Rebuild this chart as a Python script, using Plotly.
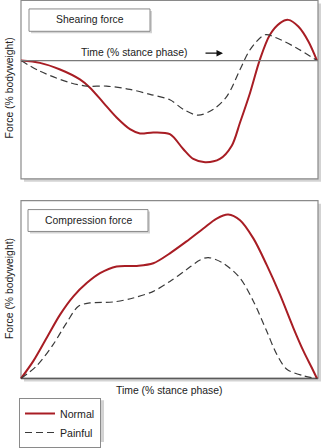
import plotly.graph_objects as go

# ---------------- data ----------------
# time, % stance phase
shear_normal_t = [0, 6.4, 13.2, 19.9, 23.3, 27.8, 32.3, 36.8, 40.2, 44.7, 50.3, 54.8, 58.2, 62.2, 67.2,
                  71.2, 74.0, 77.4, 80.7, 84.1, 87.5, 90.3, 93.7, 97.1, 100]
shear_normal_f = [0, -2.3, -9, -19, -27.3, -42.3, -57.3, -69, -73.3, -72.3, -74, -89, -99, -102.3, -99,
                  -85.7, -62.3, -32.3, 1, 26, 37.7, 41, 34.3, 19.3, 0]
shear_pain_t = [0, 6.4, 16.6, 22.2, 28.9, 36.8, 43.6, 50.3, 54.8, 59.9, 65.0, 69.6, 74.0, 77.4, 82.4,
                86.4, 93.1, 100]
shear_pain_f = [0, -10.7, -22.3, -25.7, -25.7, -29, -34, -39.5, -49, -55, -49, -35.7, -9, 11, 26,
                22.7, 12.7, 0]

comp_normal_t = [0, 4.2, 8.7, 13.2, 17.7, 22.2, 26.7, 32.3, 39.1, 44.7, 50.3, 55.8, 61.6, 66.1, 70.0,
                 74.0, 78.5, 83.0, 87.5, 92.0, 95.4, 98.2, 100]
comp_normal_f = [0, 17.7, 41, 64.3, 82.7, 96, 106, 112.7, 113.3, 116, 126, 137.7, 151, 161, 165,
                 159.3, 141, 114.3, 84.3, 51, 27.7, 11, 0]
comp_pain_t = [0, 5.3, 10.9, 15.4, 19.4, 23.3, 31.2, 37.9, 44.7, 50.3, 55.8, 60.5, 63.3, 68.3, 74.0,
               78.5, 83.0, 86.4, 89.8, 95.4, 100]
comp_pain_f = [0, 12.7, 34.3, 56, 72.7, 76, 77, 81, 87.7, 97.7, 109.3, 119.3, 121.7, 116, 101,
               77.7, 47.7, 24.3, 9.3, 2.7, 0]

series_names = ["Normal", "Painful"]
panel_titles = ["Shearing force", "Compression force"]
x_title = "Time (% stance phase)"
y_title = "Force (% bodyweight)"

# ---------------- layout helpers ----------------
W, H = 324, 448
def px(x):
    return x / W
def py(y):
    return 1 - y / H

RED = "#a81d24"
DARK = "#3a3a3a"
BORDER = "#8a8a8a"
SHADOW = "#d3d3d3"
FONT = "Liberation Sans, Arial, sans-serif"
FS = 10.4

fig = go.Figure()

def add_pair(nt, nf, pt, pf, xa, ya, show):
    fig.add_trace(go.Scatter(x=nt, y=nf, mode="lines", name=series_names[0], legendgroup="n",
                             showlegend=show, xaxis=xa, yaxis=ya,
                             line=dict(color=RED, width=2, shape="spline", smoothing=0.9)))
    fig.add_trace(go.Scatter(x=pt, y=pf, mode="lines", name=series_names[1], legendgroup="p",
                             showlegend=show, xaxis=xa, yaxis=ya,
                             line=dict(color=DARK, width=1.2, dash="7px,4px", shape="spline", smoothing=0.9)))

add_pair(shear_normal_t, shear_normal_f, shear_pain_t, shear_pain_f, "x", "y", True)
add_pair(comp_normal_t, comp_normal_f, comp_pain_t, comp_pain_f, "x2", "y2", False)

ax = dict(visible=False, showgrid=False, zeroline=False, fixedrange=True)
xr = [(19 - 21) / 2.96, (320 - 21) / 2.96]

shapes = []
def box(x0, y0, x1, y1, off, lw):
    shapes.append(dict(type="rect", xref="paper", yref="paper", layer="below",
                       x0=px(x0 + off), x1=px(x1 + off), y0=py(y1 + off), y1=py(y0 + off),
                       fillcolor=SHADOW, line=dict(width=0)))
    shapes.append(dict(type="rect", xref="paper", yref="paper", layer="below",
                       x0=px(x0), x1=px(x1), y0=py(y1), y1=py(y0),
                       fillcolor="white", line=dict(color=BORDER, width=lw)))

box(21, 0.5, 318, 180, 3, 1.2)
box(21, 202, 318, 381, 3, 1.2)
box(29, 9, 150, 31.5, 2, 1)
box(28, 211, 148, 233, 2, 1)
# legend shadow
shapes.append(dict(type="rect", xref="paper", yref="paper", layer="below",
                   x0=px(21), x1=px(104), y0=py(445), y1=py(403),
                   fillcolor=SHADOW, line=dict(width=0)))
# zero line of shear panel
shapes.append(dict(type="line", xref="paper", yref="y", x0=px(21), x1=px(318), y0=0, y1=0,
                   line=dict(color="#7a7a7a", width=1.4), layer="above"))
# bottom axis line of compression panel
shapes.append(dict(type="line", xref="paper", yref="y2", x0=px(21), x1=px(318), y0=0, y1=0,
                   line=dict(color="#5a5a5a", width=1.4), layer="below"))

tf = dict(family=FONT, size=FS, color="#222")
annotations = [
    dict(text=panel_titles[0], x=px(89.5), y=py(20), xref="paper", yref="paper", showarrow=False,
         font=tf, xanchor="center", yanchor="middle"),
    dict(text=panel_titles[1], x=px(88), y=py(222), xref="paper", yref="paper", showarrow=False,
         font=tf, xanchor="center", yanchor="middle"),
    dict(text=x_title, x=px(134), y=py(53), xref="paper", yref="paper", showarrow=False,
         font=tf, xanchor="center", yanchor="middle"),
    dict(text=x_title, x=px(169), y=py(393), xref="paper", yref="paper", showarrow=False,
         font=tf, xanchor="center", yanchor="middle"),
    dict(text=y_title, x=px(9), y=py(89), xref="paper", yref="paper", showarrow=False,
         font=tf, textangle=-90, xanchor="center", yanchor="middle"),
    dict(text=y_title, x=px(9), y=py(291), xref="paper", yref="paper", showarrow=False,
         font=tf, textangle=-90, xanchor="center", yanchor="middle"),
    dict(text="", x=px(223), y=py(53.5), ax=-19, ay=0, xref="paper", yref="paper",
         showarrow=True, arrowhead=2, arrowsize=1, arrowwidth=1.3,
         arrowcolor="#111"),
]

fig.update_layout(
    width=W, height=H, margin=dict(l=0, r=0, t=0, b=0),
    paper_bgcolor="white", plot_bgcolor="rgba(0,0,0,0)",
    xaxis=dict(ax, domain=[px(19), px(320)], range=xr),
    yaxis=dict(ax, domain=[py(182), py(0)], range=[61 - 182, 61]),
    xaxis2=dict(ax, domain=[px(19), px(320)], range=xr, anchor="y2"),
    yaxis2=dict(ax, domain=[py(383), py(200)], range=[381 - 383, 381 - 200], anchor="x2"),
    shapes=shapes, annotations=annotations,
    showlegend=True,
    legend=dict(x=px(19), y=py(401), xanchor="left", yanchor="top", bgcolor="white",
                bordercolor=BORDER, borderwidth=1, font=dict(tf, size=10.6), tracegroupgap=0,
                itemwidth=30),
    font=tf,
)

fig.write_html("out.html")
